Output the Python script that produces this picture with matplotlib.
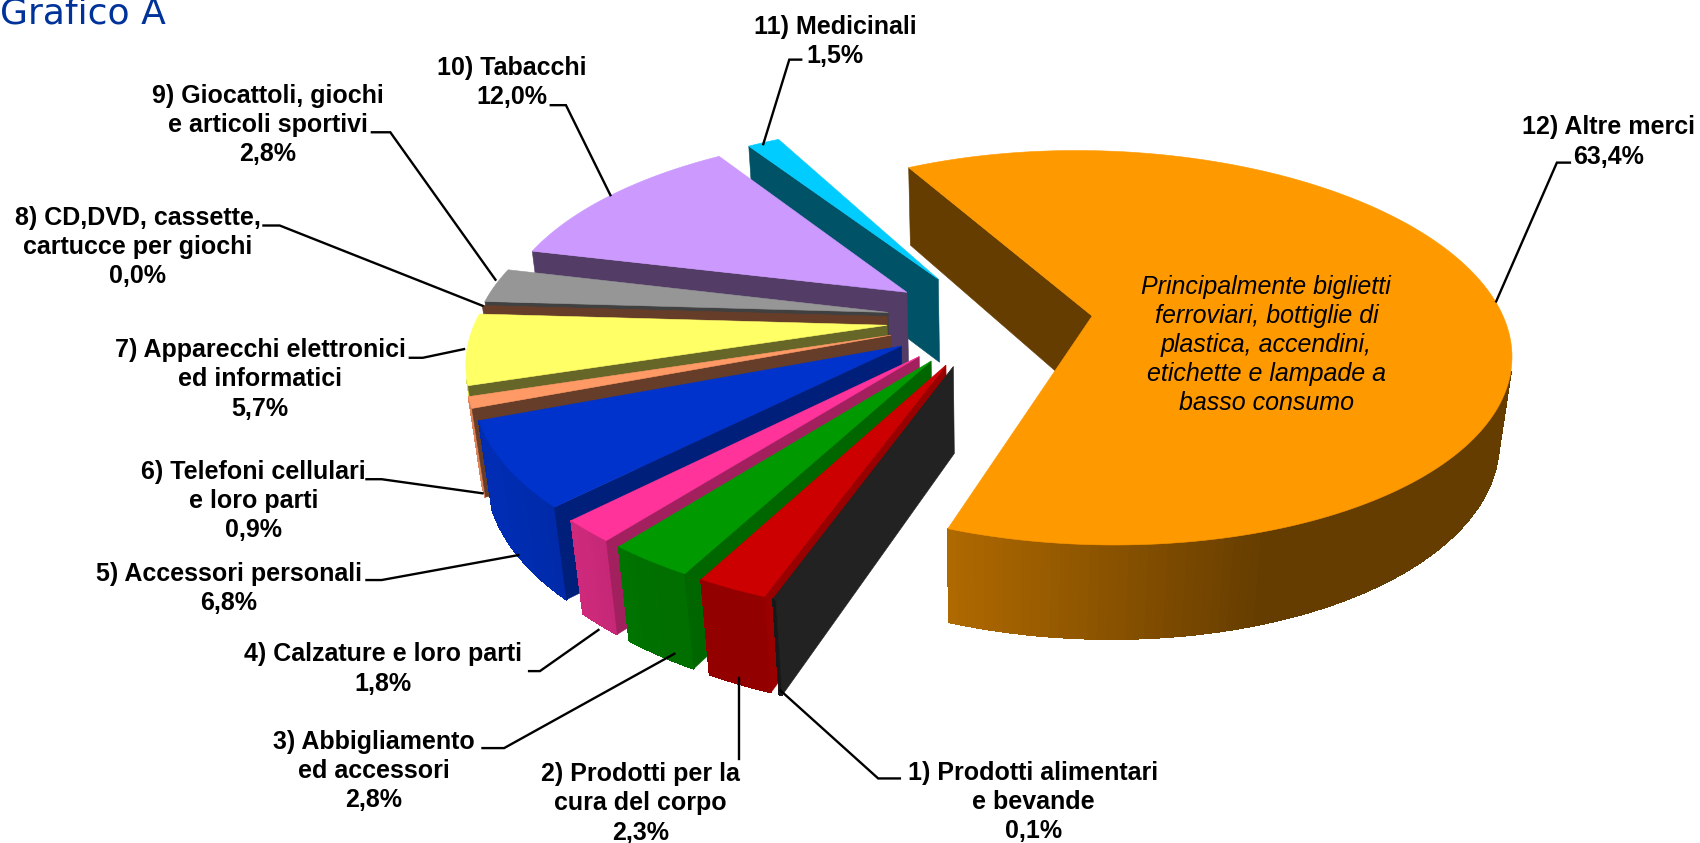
import numpy as np
import matplotlib
matplotlib.use('Agg')
import matplotlib.pyplot as plt
from matplotlib.patches import Polygon

# slices, clockwise, starting from the big one
names = ["12) Altre merci", "1) Prodotti alimentari\ne bevande", "2) Prodotti per la\ncura del corpo",
         "3) Abbigliamento\ned accessori", "4) Calzature e loro parti", "5) Accessori personali",
         "6) Telefoni cellulari\ne loro parti", "7) Apparecchi elettronici\ned informatici",
         "8) CD,DVD, cassette,\ncartucce per giochi", "9) Giocattoli, giochi\ne articoli sportivi",
         "10) Tabacchi", "11) Medicinali"]
values = [63.4, 0.1, 2.3, 2.8, 1.8, 6.8, 0.9, 5.7, 0.0, 2.8, 12.0, 1.5]
pct_text = ["63,4%", "0,1%", "2,3%", "2,8%", "1,8%", "6,8%", "0,9%", "5,7%", "0,0%", "2,8%", "12,0%", "1,5%"]
note = "Principalmente biglietti\nferroviari, bottiglie di\nplastica, accendini,\netichette e lampade a\nbasso consumo"

top_cols = ['#FF9900', '#222222', '#CC0000', '#009900', '#FF3399', '#0033CC',
            '#FF9966', '#FFFF66', '#663D29', '#969696', '#CC99FF', '#00CCFF']
side_cols = ['#663D00', '#222222', '#990000', '#006600', '#A3205F', '#001F7A',
             '#663D29', '#666628', '#663D29', '#404040', '#533D66', '#005266']

# outer wall brightness against screen x
shade_x = [450, 500, 590, 650, 730, 946, 1263, 1700]
shade_val = [0.85, 0.88, 0.80, 0.73, 0.72, 0.69, 0.40, 0.40]

# view of the tilted pie
cx, cy, a, b, c, d, k, l = 989.69, 319.39, 411.52, -5.37, -1.46, -193.17, 0.1615, 0.0004
explode, start = 0.2503, 117.62
wall, wall_q = 87, 0.025

# labels: centre of the text block, then leader line (in px of the small picture)
S = 1700 / 1568
label_xy = [(1484, 131), (953, 740), (591, 741), (345, 711), (353, 617), (211, 543),
            (234, 462), (240, 350), (127, 228), (247, 115), (472, 76), (770, 38)]
leaders = [[(1380, 278), (1436, 150), (1448, 150)],
           [(720, 637), (810, 718), (830, 718)],
           [(682, 625), (682, 700)],
           [(622, 603), (465, 690), (445, 690)],
           [(552, 581), (498, 619), (488, 619)],
           [(478, 512), (352, 535), (338, 535)],
           [(445, 455), (352, 442), (338, 442)],
           [(428, 322), (390, 330), (378, 330)],
           [(445, 282), (258, 208), (243, 208)],
           [(457, 258), (360, 122), (343, 122)],
           [(563, 180), (522, 97), (508, 97)],
           [(704, 133), (728, 55), (739, 55)]]


def proj(wx, wy, z=0):
    D = 1 + k * wy + l * wx + wall_q * z
    return cx + (a * wx + b * wy) / D, cy + (c * wx + d * wy + wall * z) / D


def shade(col, f):
    rgb = np.array(matplotlib.colors.to_rgb(col))
    return tuple(rgb * f)


fig = plt.figure(figsize=(17, 8.43), dpi=100)
ax = fig.add_axes([0, 0, 1, 1])
ax.set_xlim(0, 1700)
ax.set_ylim(843, 0)
ax.axis('off')

ang = np.array(values) / sum(values) * 360
bnd = start - np.concatenate([[0], np.cumsum(ang)])


def face(x1, y1, x2, y2, col, order, rim=False):
    bot1, bot2 = proj(x1, y1, 1), proj(x2, y2, 1)
    top1, top2 = proj(x1, y1), proj(x2, y2)
    pts = np.array([bot1, bot2, top2, top1])
    area = np.sum(pts[:, 0] * np.roll(pts[:, 1], -1) - np.roll(pts[:, 0], -1) * pts[:, 1])
    if area < -1e-6:
        if rim:
            col = shade(col, np.interp(pts[:, 0].mean(), shade_x, shade_val))
        ax.add_patch(Polygon(pts, fc=col, ec=col, lw=0.8 if rim else 0.4, antialiased=not rim, zorder=order))


# back to front: from Medicinali round to Prodotti alimentari, big slice last
draw_order = [11, 10, 9, 8, 7, 6, 5, 4, 3, 2, 1, 0]
for n, i in enumerate(draw_order):
    z0 = 2 + n * 2
    mid = np.radians((bnd[i] + bnd[i + 1]) / 2)
    ox, oy = explode * np.cos(mid), explode * np.sin(mid)
    t = np.radians(np.linspace(bnd[i + 1], bnd[i], 200))
    rx, ry = ox + np.cos(t), oy + np.sin(t)
    # rim wall
    for j in range(len(t) - 1):
        face(rx[j], ry[j], rx[j + 1], ry[j + 1], top_cols[i], z0, rim=True)
    # two radial walls
    face(ox, oy, rx[0], ry[0], side_cols[i], z0)
    face(rx[-1], ry[-1], ox, oy, side_cols[i], z0)
    u, v = proj(rx, ry)
    u0, v0 = proj(ox, oy)
    ax.add_patch(Polygon(np.c_[np.r_[u0, u], np.r_[v0, v]], fc=top_cols[i], ec=top_cols[i], lw=0.4, zorder=z0 + 1))

# labels and leader lines
for i in range(len(names)):
    x, y = label_xy[i]
    ax.text(x * S, y * S, names[i] + "\n" + pct_text[i], ha='center', va='center', fontsize=18,
            fontweight='bold', family='Liberation Sans', linespacing=1.27, zorder=50)
    pts = np.array(leaders[i]) * S
    ax.plot(pts[:, 0], pts[:, 1], color='k', lw=1.7, zorder=49, solid_joinstyle='miter')

ax.text(1168 * S, 318 * S, note, ha='center', va='center', fontsize=18, style='italic',
        family='Liberation Sans', linespacing=1.27, zorder=50)
ax.text(0, 23, "Grafico A", fontsize=26, color='#003399', va='baseline', ha='left', zorder=50)

fig.savefig('out.png', dpi=100)
